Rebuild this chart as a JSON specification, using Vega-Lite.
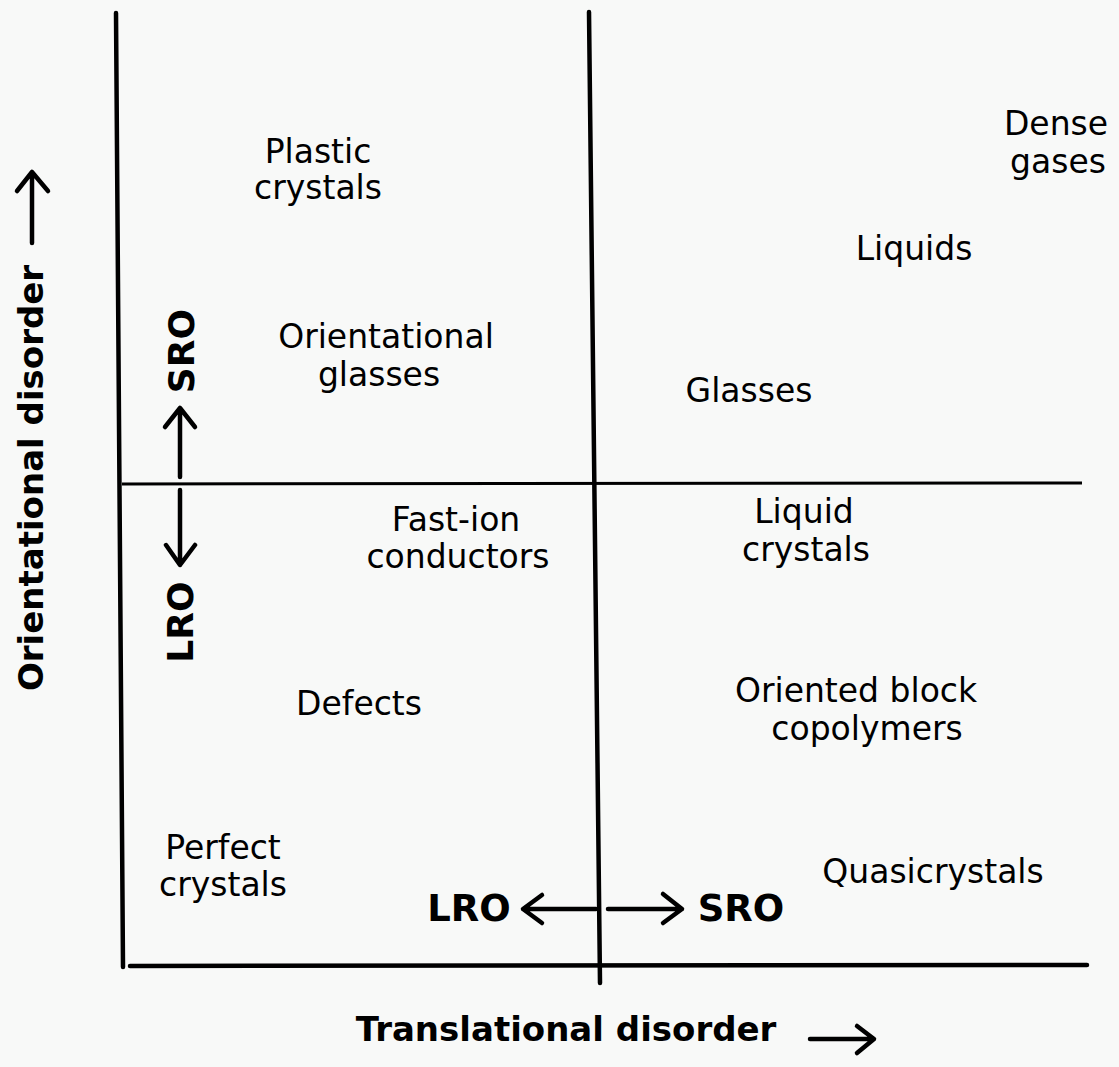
{
  "$schema": "https://vega.github.io/schema/vega-lite/v6.json",
  "width": 1119,
  "height": 1067,
  "autosize": {"type": "fit", "contains": "padding"},
  "padding": 0,
  "background": "#f8f9f8",
  "config": {"view": {"stroke": null}},
  "datasets": {
    "lines": [
      {"seg": "left", "kind": "frame", "x0": 116, "y0": 13, "x1": 123, "y1": 967},
      {"seg": "mid", "kind": "frame", "x0": 589, "y0": 12, "x1": 600, "y1": 983},
      {"seg": "bottom", "kind": "frame", "x0": 130, "y0": 966, "x1": 1087, "y1": 965},
      {"seg": "divider", "kind": "divider", "x0": 122, "y0": 484, "x1": 1082, "y1": 483}
    ],
    "arrows": [
      {"arrow": "lro-h", "ord": 1, "x": 596, "y": 909},
      {"arrow": "lro-h", "ord": 2, "x": 523, "y": 909},
      {"arrow": "lro-h", "ord": 3, "x": 542, "y": 895},
      {"arrow": "lro-h", "ord": 4, "x": 523, "y": 909},
      {"arrow": "lro-h", "ord": 5, "x": 542, "y": 923},
      {"arrow": "sro-h", "ord": 1, "x": 608, "y": 909},
      {"arrow": "sro-h", "ord": 2, "x": 682, "y": 909},
      {"arrow": "sro-h", "ord": 3, "x": 663, "y": 894},
      {"arrow": "sro-h", "ord": 4, "x": 682, "y": 909},
      {"arrow": "sro-h", "ord": 5, "x": 663, "y": 923},
      {"arrow": "sro-v", "ord": 1, "x": 180, "y": 477},
      {"arrow": "sro-v", "ord": 2, "x": 180, "y": 408},
      {"arrow": "sro-v", "ord": 3, "x": 165, "y": 427},
      {"arrow": "sro-v", "ord": 4, "x": 180, "y": 408},
      {"arrow": "sro-v", "ord": 5, "x": 195, "y": 427},
      {"arrow": "lro-v", "ord": 1, "x": 180, "y": 490},
      {"arrow": "lro-v", "ord": 2, "x": 180, "y": 565},
      {"arrow": "lro-v", "ord": 3, "x": 166, "y": 545},
      {"arrow": "lro-v", "ord": 4, "x": 180, "y": 565},
      {"arrow": "lro-v", "ord": 5, "x": 195, "y": 545},
      {"arrow": "trans", "ord": 1, "x": 810, "y": 1039},
      {"arrow": "trans", "ord": 2, "x": 874, "y": 1039},
      {"arrow": "trans", "ord": 3, "x": 857, "y": 1026},
      {"arrow": "trans", "ord": 4, "x": 874, "y": 1039},
      {"arrow": "trans", "ord": 5, "x": 857, "y": 1053},
      {"arrow": "orient", "ord": 1, "x": 32, "y": 243},
      {"arrow": "orient", "ord": 2, "x": 32, "y": 172},
      {"arrow": "orient", "ord": 3, "x": 17, "y": 191},
      {"arrow": "orient", "ord": 4, "x": 32, "y": 172},
      {"arrow": "orient", "ord": 5, "x": 48, "y": 191}
    ],
    "labels": [
      {"role": "plain", "text": "Plastic", "x": 318, "y": 153},
      {"role": "plain", "text": "crystals", "x": 318, "y": 189},
      {"role": "plain", "text": "Dense", "x": 1056, "y": 125},
      {"role": "plain", "text": "gases", "x": 1058, "y": 163},
      {"role": "plain", "text": "Liquids", "x": 914, "y": 250},
      {"role": "plain", "text": "Orientational", "x": 386, "y": 338},
      {"role": "plain", "text": "glasses", "x": 379, "y": 376},
      {"role": "plain", "text": "Glasses", "x": 749, "y": 392},
      {"role": "plain", "text": "Fast-ion", "x": 456, "y": 521},
      {"role": "plain", "text": "conductors", "x": 458, "y": 558},
      {"role": "plain", "text": "Liquid", "x": 804, "y": 513},
      {"role": "plain", "text": "crystals", "x": 806, "y": 551},
      {"role": "plain", "text": "Defects", "x": 359, "y": 705},
      {"role": "plain", "text": "Oriented block", "x": 856, "y": 692},
      {"role": "plain", "text": "copolymers", "x": 867, "y": 730},
      {"role": "plain", "text": "Perfect", "x": 223, "y": 849},
      {"role": "plain", "text": "crystals", "x": 223, "y": 886},
      {"role": "plain", "text": "Quasicrystals", "x": 933, "y": 873},
      {"role": "bold", "text": "LRO", "x": 469, "y": 910},
      {"role": "bold", "text": "SRO", "x": 741, "y": 910},
      {"role": "boldv", "text": "SRO", "x": 183, "y": 351},
      {"role": "boldv", "text": "LRO", "x": 182, "y": 622},
      {"role": "titlex", "text": "Translational disorder", "x": 566, "y": 1031},
      {"role": "titley", "text": "Orientational disorder", "x": 33, "y": 478}
    ]
  },
  "encoding": {
    "x": {"type": "quantitative", "scale": {"domain": [0, 1119], "nice": false, "zero": false}, "axis": null},
    "y": {"type": "quantitative", "scale": {"domain": [0, 1067], "nice": false, "zero": false, "reverse": true}, "axis": null}
  },
  "layer": [
    {
      "data": {"name": "lines"},
      "transform": [{"filter": "datum.kind === 'frame'"}],
      "mark": {"type": "rule", "color": "#000000", "strokeWidth": 4.5, "strokeCap": "round"},
      "encoding": {
        "x": {"field": "x0"}, "y": {"field": "y0"},
        "x2": {"field": "x1"}, "y2": {"field": "y1"}
      }
    },
    {
      "data": {"name": "lines"},
      "transform": [{"filter": "datum.kind === 'divider'"}],
      "mark": {"type": "rule", "color": "#000000", "strokeWidth": 3},
      "encoding": {
        "x": {"field": "x0"}, "y": {"field": "y0"},
        "x2": {"field": "x1"}, "y2": {"field": "y1"}
      }
    },
    {
      "data": {"name": "arrows"},
      "mark": {"type": "line", "color": "#000000", "strokeWidth": 4.5, "strokeCap": "round", "strokeJoin": "round"},
      "encoding": {
        "x": {"field": "x"}, "y": {"field": "y"},
        "detail": {"field": "arrow"},
        "order": {"field": "ord", "type": "quantitative"}
      }
    },
    {
      "data": {"name": "labels"},
      "transform": [{"filter": "datum.role === 'plain'"}],
      "mark": {"type": "text", "font": "DejaVu Sans", "fontSize": 33, "color": "#000000", "align": "center", "baseline": "middle"},
      "encoding": {"x": {"field": "x"}, "y": {"field": "y"}, "text": {"field": "text"}}
    },
    {
      "data": {"name": "labels"},
      "transform": [{"filter": "datum.role === 'bold'"}],
      "mark": {"type": "text", "font": "DejaVu Sans", "fontWeight": "bold", "fontSize": 37, "color": "#000000", "align": "center", "baseline": "middle"},
      "encoding": {"x": {"field": "x"}, "y": {"field": "y"}, "text": {"field": "text"}}
    },
    {
      "data": {"name": "labels"},
      "transform": [{"filter": "datum.role === 'boldv'"}],
      "mark": {"type": "text", "font": "DejaVu Sans", "fontWeight": "bold", "fontSize": 36, "angle": 270, "color": "#000000", "align": "center", "baseline": "middle"},
      "encoding": {"x": {"field": "x"}, "y": {"field": "y"}, "text": {"field": "text"}}
    },
    {
      "data": {"name": "labels"},
      "transform": [{"filter": "datum.role === 'titlex'"}],
      "mark": {"type": "text", "font": "DejaVu Sans", "fontWeight": "bold", "fontSize": 34, "color": "#000000", "align": "center", "baseline": "middle"},
      "encoding": {"x": {"field": "x"}, "y": {"field": "y"}, "text": {"field": "text"}}
    },
    {
      "data": {"name": "labels"},
      "transform": [{"filter": "datum.role === 'titley'"}],
      "mark": {"type": "text", "font": "DejaVu Sans", "fontWeight": "bold", "fontSize": 34, "angle": 270, "color": "#000000", "align": "center", "baseline": "middle"},
      "encoding": {"x": {"field": "x"}, "y": {"field": "y"}, "text": {"field": "text"}}
    }
  ]
}
